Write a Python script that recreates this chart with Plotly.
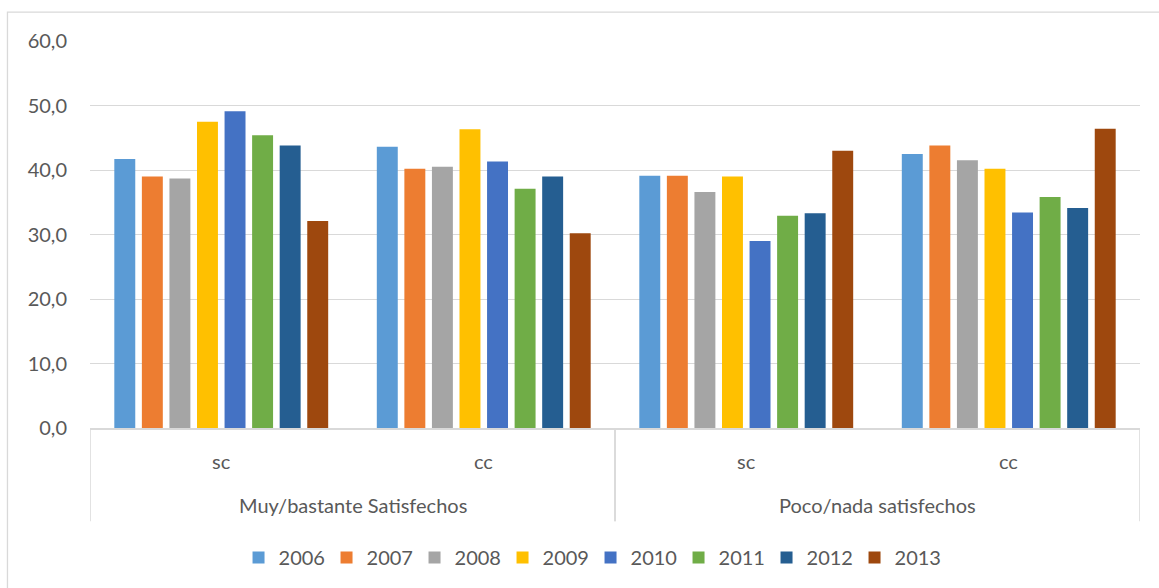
import plotly.graph_objects as go

groups = ["Muy/bastante Satisfechos", "Muy/bastante Satisfechos", "Poco/nada satisfechos", "Poco/nada satisfechos"]
subcats = ["sc", "cc", "sc", "cc"]
years = ["2006", "2007", "2008", "2009", "2010", "2011", "2012", "2013"]

v2006 = [41.7, 43.6, 39.1, 42.5]
v2007 = [39.0, 40.2, 39.1, 43.8]
v2008 = [38.7, 40.5, 36.6, 41.5]
v2009 = [47.5, 46.3, 39.0, 40.2]
v2010 = [49.1, 41.3, 29.0, 33.4]
v2011 = [45.4, 37.1, 32.9, 35.8]
v2012 = [43.8, 39.0, 33.3, 34.1]
v2013 = [32.1, 30.2, 43.0, 46.4]
series = [v2006, v2007, v2008, v2009, v2010, v2011, v2012, v2013]

colors = ["#5B9BD5", "#ED7D31", "#A5A5A5", "#FFC000", "#4472C4", "#70AD47", "#255E91", "#9E480E"]

FONT = "Lato"
TXT = "#595959"
GRID = "#D9D9D9"

# category keys combine both levels of the axis
keys = [f"{g} | {s}" for g, s in zip(groups, subcats)]

fig = go.Figure()
for name, vals, col in zip(years, series, colors):
    fig.add_trace(go.Bar(
        x=keys, y=vals, name=name,
        marker=dict(color=col, line=dict(width=0)),
    ))

# two-level category labels, drawn as text under the axis
annotations = []
for i, (k, s) in enumerate(zip(keys, subcats)):
    annotations.append(dict(x=i, xref="x", y=-0.0863, yref="paper", text=s,
                            showarrow=False, xanchor="center", yanchor="middle",
                            font=dict(family=FONT, size=20, color=TXT)))
uniq = []
for g in groups:
    if g not in uniq:
        uniq.append(g)
shapes = []
for g in uniq:
    idx = [i for i, gg in enumerate(groups) if gg == g]
    annotations.append(dict(x=sum(idx) / len(idx), xref="x", y=-0.1997, yref="paper", text=g,
                            showarrow=False, xanchor="center", yanchor="middle",
                            font=dict(family=FONT, size=20, color=TXT)))
    for edge in (min(idx) - 0.5, max(idx) + 0.5):
        shapes.append(dict(type="line", xref="x", yref="paper", x0=edge, x1=edge,
                           y0=0, y1=-0.241, line=dict(color=GRID, width=1.5)))

shapes.append(dict(type="rect", xref="paper", yref="paper",
                   x0=-0.0786, x1=1.03, y0=-0.45, y1=1.0747,
                   line=dict(color=GRID, width=1.3), fillcolor="rgba(0,0,0,0)", layer="below"))

fig.update_layout(
    width=1159, height=588,
    margin=dict(l=90, r=19, t=41, b=159),
    paper_bgcolor="white", plot_bgcolor="white",
    barmode="group", bargap=0.16, bargroupgap=0.24,
    separators=", ",
    font=dict(family=FONT, size=20, color=TXT),
    showlegend=True,
    legend=dict(orientation="h", x=0.4767, xanchor="center", y=-0.331, yanchor="middle",
                font=dict(family=FONT, size=20, color=TXT), traceorder="normal",
                itemwidth=30, entrywidth=43, entrywidthmode="pixels"),
    annotations=annotations,
    shapes=shapes,
)
fig.update_yaxes(range=[0, 60], dtick=10, tickformat=".1f", showgrid=True,
                 gridcolor=GRID, gridwidth=1.3, zeroline=False, showline=False,
                 ticks="", ticklabelstandoff=22,
                 tickfont=dict(family=FONT, size=20, color=TXT))
fig.update_xaxes(type="category", range=[-0.5, len(keys) - 0.5], showline=True,
                 linecolor=GRID, linewidth=1.5, showticklabels=False, ticks="",
                 showgrid=False)

fig.write_html("out.html")
